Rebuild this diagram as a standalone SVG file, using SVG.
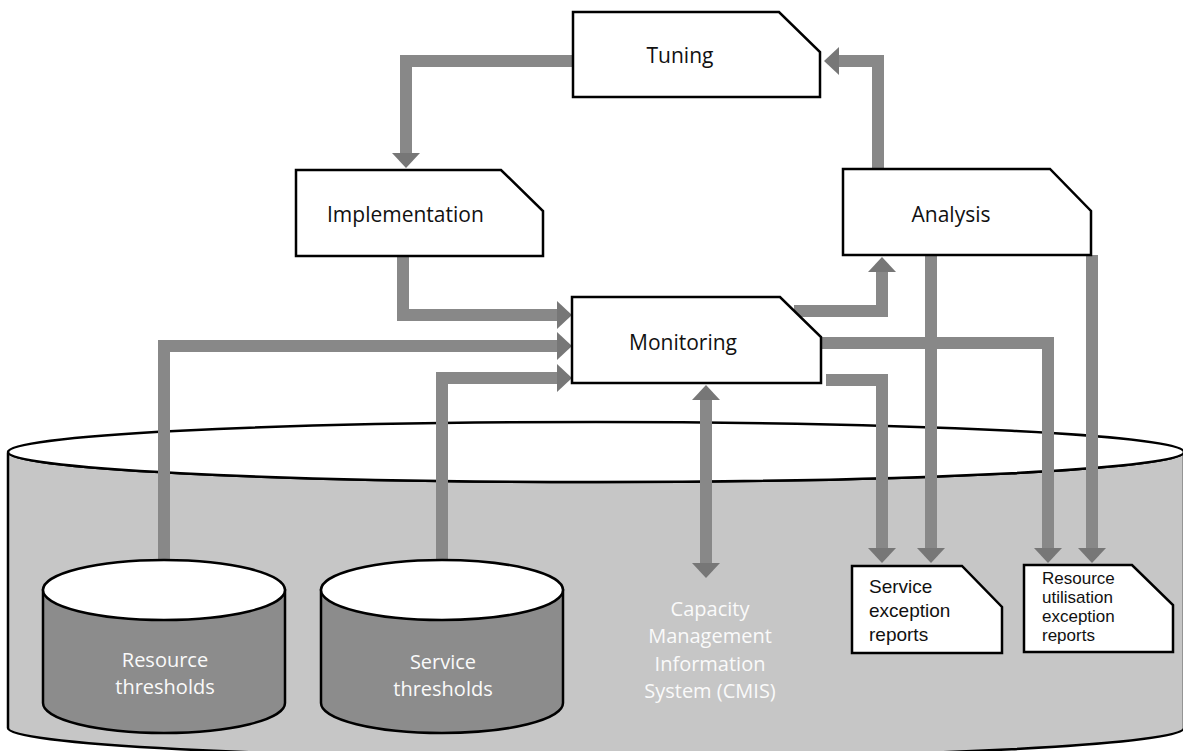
<svg xmlns="http://www.w3.org/2000/svg" width="1183" height="751" viewBox="0 0 1183 751">
<style>
.box{fill:#fff;stroke:#000;stroke-width:2.5}
.lbl{font-family:"Open Sans","Liberation Sans",sans-serif;font-size:21px;fill:#111}
.sm{font-family:"Liberation Sans","Open Sans",sans-serif;font-size:19px;fill:#111}
.sm2{font-family:"Liberation Sans","Open Sans",sans-serif;font-size:17px;fill:#111}
.wt{font-family:"Open Sans","Liberation Sans",sans-serif;font-size:20px;fill:#fafafa;text-anchor:middle}
.bar{fill:none;stroke:#888;stroke-width:12}
.cyl{stroke:#000;stroke-width:2.5}
</style>
<defs>
<marker id="ah" viewBox="0 0 15 28" refX="0" refY="14" markerWidth="15" markerHeight="28" markerUnits="userSpaceOnUse" orient="auto-start-reverse">
<path d="M0,0 L15,14 L0,28 Z" fill="#777"/>
</marker>
</defs>
<rect width="1183" height="751" fill="#fff"/>
<g id="cmis">
<path d="M8,452 L8,728 A588,30 0 0 0 1184,728 L1184,452 A588,30 0 0 1 8,452 Z" fill="#c6c6c6" stroke="#000" stroke-width="2.5"/>
<ellipse cx="596" cy="452" rx="588" ry="30" fill="#fff" stroke="#000" stroke-width="2.5"/>
<text class="wt"><tspan x="710" y="616">Capacity</tspan><tspan x="710" y="643">Management</tspan><tspan x="710" y="671">Information</tspan><tspan x="710" y="698">System (CMIS)</tspan></text>
</g>
<g id="connectors">
<path class="bar" d="M573,61 H406 V153" marker-end="url(#ah)"/>
<path class="bar" d="M878,169 V61 H839" marker-end="url(#ah)"/>
<path class="bar" d="M403,256 V315 H557" marker-end="url(#ah)"/>
<path class="bar" d="M164,560 V346 H557" marker-end="url(#ah)"/>
<path class="bar" d="M442,560 V378 H557" marker-end="url(#ah)"/>
<path class="bar" d="M794,311 H882 V272" marker-end="url(#ah)"/>
<path class="bar" d="M821,343 H1048 V548" marker-end="url(#ah)"/>
<path class="bar" d="M826,380 H882 V548" marker-end="url(#ah)"/>
<path class="bar" d="M931,255 V548" marker-end="url(#ah)"/>
<path class="bar" d="M1092,255 V548" marker-end="url(#ah)"/>
<path class="bar" d="M706,400 V563" marker-start="url(#ah)" marker-end="url(#ah)"/>
</g>
<g id="tuning">
<path class="box" d="M573,12 H779 L820,52 V97 H573 Z"/>
<text class="lbl" x="680" y="63" text-anchor="middle">Tuning</text>
</g>
<g id="implementation">
<path class="box" d="M296,170 H501 L543,211 V256 H296 Z"/>
<text class="lbl" x="327" y="222">Implementation</text>
</g>
<g id="analysis">
<path class="box" d="M843,169 H1050 L1091,211 V255 H843 Z"/>
<text class="lbl" x="951" y="222" text-anchor="middle">Analysis</text>
</g>
<g id="monitoring">
<path class="box" d="M572,297 H780 L821,337 V383 H572 Z"/>
<text class="lbl" x="683" y="350" text-anchor="middle">Monitoring</text>
</g>
<g id="resource-thresholds">
<path class="cyl" d="M43,590 V703 A121,30 0 0 0 285,703 V590 Z" fill="#8c8c8c"/>
<ellipse class="cyl" cx="164" cy="590" rx="121" ry="30" fill="#fff"/>
<text class="wt"><tspan x="165" y="667">Resource</tspan><tspan x="165" y="694">thresholds</tspan></text>
</g>
<g id="service-thresholds">
<path class="cyl" d="M321,590 V703 A121,30 0 0 0 563,703 V590 Z" fill="#8c8c8c"/>
<ellipse class="cyl" cx="442" cy="590" rx="121" ry="30" fill="#fff"/>
<text class="wt"><tspan x="443" y="669">Service</tspan><tspan x="443" y="696">thresholds</tspan></text>
</g>
<g id="service-exception-reports">
<path class="box" d="M852,566 H962 L1002,607 V653 H852 Z"/>
<text class="sm"><tspan x="869" y="593">Service</tspan><tspan x="869" y="617">exception</tspan><tspan x="869" y="641">reports</tspan></text>
</g>
<g id="resource-utilisation-exception-reports">
<path class="box" d="M1024,565 H1132 L1173,605 V652 H1024 Z"/>
<text class="sm2"><tspan x="1042" y="584">Resource</tspan><tspan x="1042" y="603">utilisation</tspan><tspan x="1042" y="622">exception</tspan><tspan x="1042" y="641">reports</tspan></text>
</g>
</svg>
